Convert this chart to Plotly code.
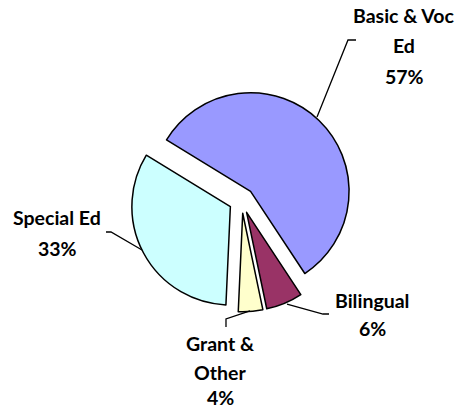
import plotly.graph_objects as go

# ---- data ----
categories = ["Basic & Voc Ed", "Bilingual", "Grant & Other", "Special Ed"]
values = [57, 6, 4, 33]
label_lines = [["Basic & Voc", "Ed"], ["Bilingual"], ["Grant &", "Other"], ["Special Ed"]]
colors = ["#9999FF", "#993366", "#FFFFCC", "#CCFFFF"]

W, H = 463, 413
FONT = "Lato"

total = sum(values)
pct = [f"{round(100 * v / total)}%" for v in values]

fig = go.Figure(go.Pie(
    labels=categories,
    values=values,
    sort=False,
    direction="clockwise",
    rotation=-58.6,
    pull=[0.13, 0.13, 0.13, 0.13],
    marker=dict(colors=colors, line=dict(color="#000000", width=1.5)),
    textinfo="none",
    hoverinfo="label+percent",
    showlegend=False,
    domain=dict(x=[0.222, 0.822], y=[0.245, 0.784]),
))


def px(x, y):
    return x / W, 1 - y / H


# label layout (pixel anchors for each text line: x centre, cap-centre y)
label_pos = {
    0: (404, [15.5, 45.7, 76.3]),
    1: (372, [300, 328]),
    2: (220, [343, 372, 397]),
    3: (57, [218, 248]),
}

annotations = []
for i, (cx, ys) in label_pos.items():
    lines = label_lines[i] + [pct[i]]
    for line, yy in zip(lines, ys):
        ax, ay = px(cx, yy)
        annotations.append(dict(
            x=ax, y=ay, xref="paper", yref="paper",
            text=f"<b>{line}</b>", showarrow=False,
            xanchor="center", yanchor="middle",
            font=dict(family=FONT, size=19.5, color="#000000"),
        ))

# leader lines (pixel paths)
leaders = [
    [(317, 117), (348, 40), (356, 40)],
    [(287, 304), (323, 314), (329, 314)],
    [(250, 311), (226, 319), (226, 327)],
    [(142, 250), (111, 232), (106, 232)],
]
shapes = []
for pts in leaders:
    p = [px(*q) for q in pts]
    path = "M " + " L ".join(f"{a:.4f},{b:.4f}" for a, b in p)
    shapes.append(dict(type="path", path=path, xref="paper", yref="paper",
                       line=dict(color="#000000", width=1.3)))

fig.update_layout(
    width=W, height=H,
    margin=dict(l=0, r=0, t=0, b=0),
    paper_bgcolor="#FFFFFF",
    plot_bgcolor="#FFFFFF",
    annotations=annotations,
    shapes=shapes,
    font=dict(family=FONT),
)

fig.write_html("out.html", config={"displayModeBar": False},
               post_script="document.body.style.margin='0px';")
